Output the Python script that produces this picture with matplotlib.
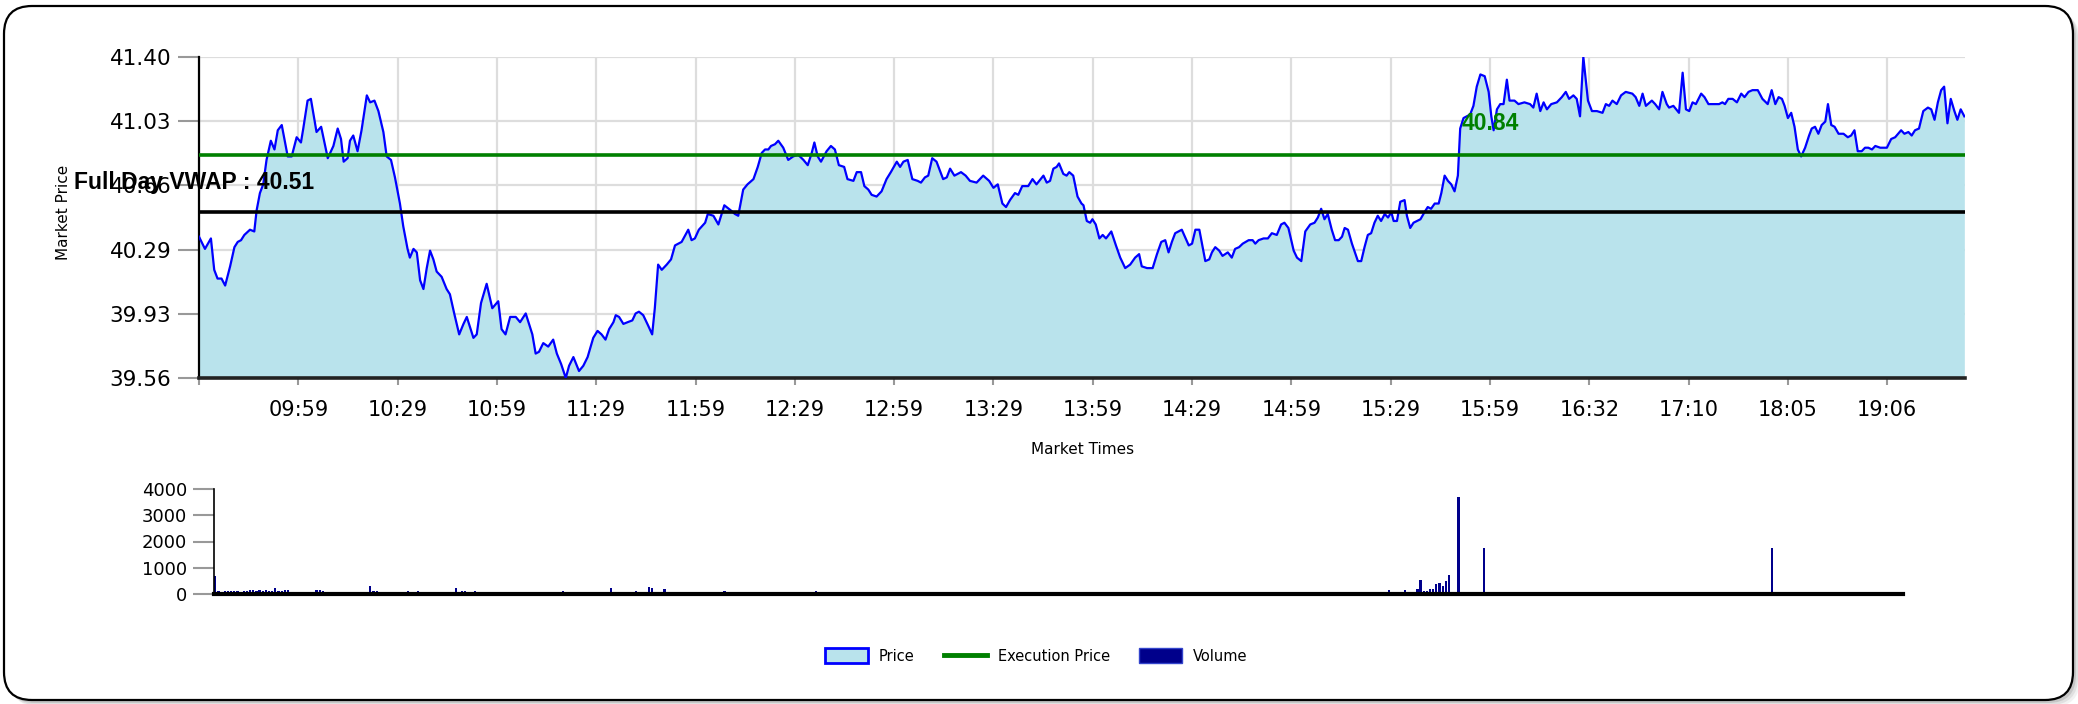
import matplotlib
matplotlib.use("Agg")
import matplotlib.pyplot as plt
import matplotlib.transforms as mtransforms
from matplotlib.patches import FancyBboxPatch, Patch
from matplotlib.lines import Line2D

# price samples: position in the session series (one step ~ one traded minute) and price
price_idx = [
    0.0, 1.8, 3.6, 4.6, 5.6, 6.8, 7.9, 9.4, 10.7, 11.7, 12.7, 13.7, 15.4, 16.7, 17.4, 18.4, 19.4, 20.4,
    21.7, 22.8, 23.8, 25.0, 26.8, 28.0, 29.5, 30.8, 31.5, 32.8, 33.8, 35.5, 36.9, 38.9, 40.6, 41.9, 42.9,
    43.7, 44.9, 45.6, 46.6, 47.9, 49.1, 50.7, 51.7, 53.0, 54.2, 55.7, 56.7, 58.0, 59.2, 60.7, 61.7, 63.0,
    63.7, 64.8, 65.8, 66.8, 67.8, 68.8, 69.8, 70.8, 71.8, 73.3, 74.8, 75.8, 77.1, 78.6, 79.9, 80.9, 81.9,
    82.9, 83.9, 85.2, 86.9, 88.6, 90.4, 91.4, 92.6, 94.0, 95.7, 97.0, 98.7, 100.7, 101.7, 102.7, 104.0,
    105.5, 107.0, 108.1, 109.4, 110.8, 111.8, 113.1, 114.8, 116.1, 117.4, 119.1, 120.4, 121.6, 122.8,
    123.9, 125.2, 125.9, 126.9, 128.2, 129.5, 130.9,
    131.9, 132.9, 134.2, 135.7, 136.9, 137.7, 138.7, 139.8, 141.3, 142.6, 143.8, 145.8, 147.8, 148.8,
    149.8, 151.0, 152.9, 153.7, 155.4, 156.9, 158.7, 160.7, 161.9, 162.9, 164.4, 165.7, 167.5, 168.8,
    170.0, 171.0, 172.0, 172.8, 174.0, 175.0, 176.5, 178.0, 179.5, 181.0, 182.6, 183.9, 185.1, 185.9,
    186.9, 187.9, 189.6, 190.9, 192.1, 193.3, 194.9, 195.9, 197.7, 198.7, 200.0, 201.0, 202.2, 203.2,
    204.7, 206.2, 207.7, 209.0, 210.8, 211.8, 212.8, 214.1, 215.5, 217.1, 218.1, 219.3, 220.3, 221.5,
    222.8, 224.8, 225.9, 226.9, 228.2, 230.2, 231.6, 232.9, 234.9, 236.9, 238.7, 240.0, 241.3, 242.7,
    243.8, 245.0, 246.5, 247.5, 248.7, 250.5, 251.8, 253.0, 255.1, 256.1, 257.1, 258.1, 259.1, 259.8,
    261.1, 262.1, 262.9, 264.1, 265.4, 266.6,
    267.2, 268.2, 269.2, 269.9, 270.9, 272.0, 273.0, 274.0, 275.6, 277.0, 278.3, 279.8, 281.3, 282.8,
    284.0, 284.8, 286.4, 288.1, 289.4, 290.7, 291.9, 292.9, 293.9, 294.9, 296.9, 299.0, 300.0, 301.0,
    302.2, 304.0, 305.2, 306.0, 307.0, 308.2, 309.2, 310.8, 312.0, 313.0, 314.2, 315.3, 317.1, 318.3,
    319.1, 320.1, 321.6, 322.9, 324.1, 325.6, 326.9, 327.9, 329.1, 330.7, 331.7, 333.0, 334.2, 335.7,
    337.0, 338.0, 339.0, 340.0, 341.0, 342.2, 343.2, 344.3, 345.3, 346.1, 347.1, 348.3, 350.1, 351.1,
    352.1, 353.1, 354.1, 355.1, 356.1, 357.1, 358.2, 359.2, 360.2, 360.9, 361.9, 362.9, 364.2, 364.9,
    365.9, 366.9, 369.0, 370.2, 371.2, 372.2, 373.3, 374.5, 375.3, 376.3, 377.3, 378.3, 379.3, 380.3,
    381.0, 382.0, 383.0, 384.0, 385.0, 386.0, 387.1, 388.4, 389.6, 390.4, 391.1, 392.1, 393.1, 394.1,
    395.1, 395.9, 397.4,
    398.6, 400.4, 402.1, 403.1, 404.1, 405.2, 406.2, 407.2, 408.5, 410.2, 411.7, 412.9, 413.9, 415.2,
    416.2, 417.2, 418.2, 419.6, 420.8, 422.3, 424.0, 425.0, 426.0, 427.0, 428.3, 429.6, 431.0, 433.0,
    434.0, 435.1, 436.1, 437.1, 438.9, 439.9, 441.1, 442.1, 443.4, 444.1, 445.4, 447.1, 448.2, 449.2,
    450.2, 451.2, 452.2, 453.8, 454.8, 456.0, 458.0, 459.2, 460.2, 461.0, 462.0, 463.3, 464.6, 465.9,
    466.9, 468.1, 469.3, 470.9, 472.3, 473.9, 475.1, 476.2, 477.2, 478.2, 479.0, 480.0, 481.0, 482.0,
    483.0, 484.0, 485.2, 486.4, 487.2, 488.2, 489.2, 490.2, 491.3, 492.1, 493.1, 494.1, 495.3, 496.8,
    498.1, 499.1, 500.1, 501.1, 502.3, 503.3, 504.3, 505.4, 506.4, 507.9, 509.9, 511.2, 512.4, 514.2,
    515.2, 516.4, 517.4, 518.4, 519.6, 520.9, 522.3, 523.3, 524.3, 525.3, 526.3, 527.2, 528.2, 529.2,
    530.3, 531.2, 532.2, 533.3,
]
price = [
    40.37, 40.30, 40.36, 40.18, 40.13, 40.13, 40.09, 40.20, 40.31, 40.34, 40.35, 40.38, 40.41, 40.40, 40.52, 40.62, 40.67, 40.81,
    40.92, 40.87, 40.98, 41.01, 40.83, 40.83, 40.94, 40.91, 40.99, 41.15, 41.16, 40.97, 41.00, 40.82, 40.89, 40.99, 40.93,
    40.80, 40.82, 40.92, 40.95, 40.86, 40.98, 41.18, 41.14, 41.15, 41.09, 40.97, 40.83, 40.81, 40.71, 40.56, 40.43, 40.30,
    40.25, 40.30, 40.28, 40.12, 40.07, 40.19, 40.29, 40.24, 40.17, 40.14, 40.07, 40.04, 39.93, 39.81, 39.87, 39.91, 39.85,
    39.79, 39.81, 39.99, 40.10, 39.96, 40.00, 39.84, 39.81, 39.91, 39.91, 39.88, 39.93, 39.81, 39.70, 39.71, 39.76,
    39.74, 39.78, 39.70, 39.64, 39.56, 39.63, 39.68, 39.60, 39.63, 39.68, 39.79, 39.83, 39.81, 39.78,
    39.84, 39.88, 39.92, 39.91, 39.87, 39.88, 39.89,
    39.93, 39.94, 39.92, 39.86, 39.81, 39.96, 40.21, 40.18, 40.21, 40.24, 40.32, 40.34, 40.41, 40.35,
    40.36, 40.41, 40.45, 40.50, 40.49, 40.44, 40.55, 40.52, 40.50, 40.49, 40.64, 40.67, 40.70, 40.77,
    40.85, 40.87, 40.87, 40.89, 40.90, 40.92, 40.88, 40.81, 40.83, 40.84, 40.81, 40.78, 40.85, 40.91,
    40.83, 40.80, 40.86, 40.89, 40.87, 40.78, 40.77, 40.70, 40.69, 40.74, 40.74, 40.66, 40.64, 40.61,
    40.60, 40.63, 40.70, 40.74, 40.80, 40.77, 40.80, 40.81, 40.70, 40.69, 40.68, 40.71, 40.72, 40.82,
    40.80, 40.70, 40.71, 40.76, 40.72, 40.74, 40.72, 40.69, 40.68, 40.72, 40.69, 40.65, 40.67, 40.56,
    40.54, 40.58, 40.62, 40.61, 40.66, 40.66, 40.70, 40.67, 40.72, 40.68, 40.69, 40.76, 40.77, 40.79,
    40.73, 40.72, 40.74, 40.72, 40.60, 40.56,
    40.55, 40.46, 40.45, 40.47, 40.44, 40.36, 40.38, 40.36, 40.40, 40.32, 40.25, 40.19, 40.21, 40.25,
    40.27, 40.20, 40.19, 40.19, 40.27, 40.34, 40.35, 40.28, 40.34, 40.39, 40.41, 40.32, 40.33, 40.41,
    40.41, 40.23, 40.24, 40.28, 40.31, 40.29, 40.26, 40.28, 40.25, 40.30, 40.31, 40.33, 40.35, 40.35,
    40.33, 40.35, 40.36, 40.36, 40.39, 40.38, 40.44, 40.45, 40.42, 40.29, 40.25, 40.23, 40.40, 40.44,
    40.45, 40.48, 40.53, 40.47, 40.50, 40.41, 40.35, 40.35, 40.37, 40.42, 40.41, 40.33, 40.23, 40.23,
    40.31, 40.38, 40.39, 40.45, 40.49, 40.46, 40.50, 40.48, 40.51, 40.46, 40.46, 40.57, 40.58, 40.49,
    40.42, 40.45, 40.47, 40.51, 40.54, 40.53, 40.56, 40.56, 40.62, 40.72, 40.69, 40.67, 40.63, 40.72,
    40.99, 41.05, 41.06, 41.07, 41.12, 41.23, 41.30, 41.29, 41.20, 41.06, 40.98, 41.10, 41.13, 41.13,
    41.27, 41.15, 41.15,
    41.13, 41.14, 41.13, 41.11, 41.19, 41.09, 41.14, 41.10, 41.13, 41.14, 41.17, 41.20, 41.16, 41.18,
    41.16, 41.06, 41.40, 41.15, 41.09, 41.09, 41.08, 41.13, 41.12, 41.15, 41.13, 41.18, 41.20, 41.19,
    41.17, 41.12, 41.19, 41.12, 41.15, 41.13, 41.10, 41.20, 41.13, 41.11, 41.12, 41.08, 41.31, 41.10,
    41.09, 41.14, 41.13, 41.19, 41.17, 41.13, 41.13, 41.13, 41.14, 41.13, 41.16, 41.16, 41.14, 41.19,
    41.17, 41.20, 41.21, 41.21, 41.16, 41.13, 41.21, 41.13, 41.17, 41.16, 41.12, 41.05, 41.08, 41.00,
    40.87, 40.83, 40.88, 40.95, 40.99, 41.00, 40.96, 41.01, 41.03, 41.13, 41.01, 41.00, 40.96, 40.96,
    40.94, 40.95, 40.98, 40.86, 40.86, 40.88, 40.88, 40.87, 40.89, 40.88, 40.88, 40.93, 40.94, 40.98,
    40.96, 40.97, 40.95, 40.98, 40.99, 41.09, 41.11, 41.10, 41.04, 41.14, 41.21, 41.23, 41.02, 41.16,
    41.09, 41.04, 41.10, 41.06,
]

exec_price = 40.84
vwap = 40.51
n_points = 534

time_labels = ['', '09:59', '10:29', '10:59', '11:29', '11:59', '12:29', '12:59', '13:29',
               '13:59', '14:29', '14:59', '15:29', '15:59', '16:32', '17:10', '18:05', '19:06']
price_ticks = [39.56, 39.928, 40.296, 40.664, 41.032, 41.40]
price_tick_labels = ['39.56', '39.93', '40.29', '40.66', '41.03', '41.40']

vol_idx = [
    0, 1, 2, 3, 4, 5, 6, 7, 8, 9, 10, 11, 12, 13, 14, 15, 16, 17, 18, 19, 20, 21, 22, 23, 24, 25,
    26, 27, 28, 29, 30, 31, 32, 33, 34, 35, 36, 37, 38, 39, 40, 41, 42, 43, 44, 45, 46, 47, 49, 50,
    51, 52, 53, 54, 55, 56, 58, 59, 61, 62, 63, 64, 65, 66, 67, 69, 71, 73, 76, 77, 78, 79, 80, 81,
    82, 83, 84, 85, 86, 87, 89, 91, 92, 93, 94, 95, 97, 99, 101, 104, 110, 113, 118, 121, 125, 132,
    133, 134, 137, 138, 139, 142, 146, 153, 159, 161, 163, 164, 167, 169, 170, 171, 178, 183, 190,
    191, 196, 200, 210, 215, 225, 240, 255, 260, 265, 271, 275, 280, 291, 300, 310, 319, 325, 330,
    339, 346, 350, 355, 358, 361, 363, 364, 365, 367, 369, 371, 372, 373, 375, 376, 377, 378, 380,
    381, 382, 383, 384, 385, 386, 387, 388, 389, 390, 393, 401, 455, 492,
]
vol = [
    700, 100, 90, 100, 100, 125, 125, 115, 75, 115, 125, 165, 140, 125, 140, 115, 165, 125, 100, 230,
    115, 100, 140, 165, 65, 75, 40, 50, 50, 65, 90, 65, 140, 165, 125, 65, 75, 65, 50, 50, 65, 50, 75,
    65, 65, 65, 40, 75, 290, 100, 125, 65, 90, 65, 75, 50, 75, 50, 125, 65, 90, 115, 65, 75, 40, 40,
    40, 50, 230, 90, 115, 100, 75, 90, 125, 75, 90, 65, 65, 65, 40, 50, 65, 75, 75, 75, 40, 40, 40,
    40, 115, 40, 40, 40, 230, 40, 125, 40, 280, 230, 40, 180, 40, 75, 65, 100, 50, 50, 50, 50, 40, 50,
    30, 30, 115, 40, 30, 25, 25, 25, 25, 25, 25, 30, 25, 40, 30, 25, 40, 25, 25, 40, 25, 30, 40, 90,
    40, 30, 40, 90, 50, 90, 90, 40, 40, 165, 40, 50, 90, 165, 50, 50, 200, 545, 125, 100, 190, 190,
    390, 420, 290, 495, 735, 3700, 1750, 25, 1750,
]
vol_ticks = [0, 1000, 2000, 3000, 4000]

W, H = 2078, 704
fig = plt.figure(figsize=(W / 100, H / 100), dpi=100)

# rounded card with a soft shadow on the right / bottom
for off, a in [(7, 0.08), (5, 0.12), (3, 0.2)]:
    sh = FancyBboxPatch((0.04 + off / 100, 0.04 - off / 100), 20.69, 6.94,
                        boxstyle="round,pad=0,rounding_size=0.28",
                        transform=fig.dpi_scale_trans, facecolor='#606060',
                        edgecolor='none', alpha=a, zorder=0)
    fig.add_artist(sh)
card = FancyBboxPatch((0.04, 0.04), 20.69, 6.94, boxstyle="round,pad=0,rounding_size=0.28",
                      transform=fig.dpi_scale_trans, facecolor='white', edgecolor='black',
                      lw=1.6, zorder=0)
fig.add_artist(card)

# price chart
ax = fig.add_axes([199 / W, 1 - 378 / H, 1766 / W, 321 / H])
ax.set_facecolor('none')
ax.fill_between(price_idx, price, price_ticks[0], color='#b9e3ec', lw=0, zorder=1)
ax.plot(price_idx, price, color='#0000ff', lw=1.6, zorder=3)
ax.axhline(exec_price, color='#008000', lw=2.6, zorder=4)
ax.axhline(vwap, color='black', lw=2.6, zorder=4)

ax.set_xlim(0, 533.5)
ax.set_ylim(price_ticks[0], price_ticks[-1])
ax.set_xticks(range(0, n_points, 30), time_labels)
ax.set_yticks(price_ticks, price_tick_labels)
ax.grid(color='#dddddd', lw=1.6)
ax.set_axisbelow(True)
ax.tick_params(axis='y', length=15, width=1.5, color='#999999', labelsize=15.5, pad=5)
ax.tick_params(axis='x', length=5, width=1.5, color='#999999', labelsize=15, pad=11)
for s in ['top', 'right']:
    ax.spines[s].set_visible(False)
ax.spines['left'].set_linewidth(1.6)
ax.spines['bottom'].set_linewidth(2.6)
ax.spines['bottom'].set_color('#222222')

blend = mtransforms.blended_transform_factory(ax.transAxes, ax.transData)
ax.text(-0.0708, vwap + 0.17, 'Full Day VWAP : %.2f' % vwap, transform=blend,
        fontsize=16.5, fontweight='bold', family='Liberation Sans', va='center', ha='left',
        clip_on=False, zorder=6)
ax.text(381.5, exec_price + 0.18, '%.2f' % exec_price, color='#008000', fontsize=16.5,
        fontweight='bold', family='Liberation Sans', va='center', ha='left', zorder=6)

fig.text(64 / W, 1 - 212 / H, 'Market Price', rotation=90, ha='center', va='center', fontsize=11)
fig.text(1083 / W, 1 - 450 / H, 'Market Times', ha='center', va='center', fontsize=11)

# volume chart
vax = fig.add_axes([213.7 / W, 1 - 594 / H, 1689.3 / W, 105 / H])
vax.set_facecolor('none')
vax.bar(vol_idx, vol, width=0.7, color='#00008b', lw=0)
vax.set_xlim(-0.5, n_points - 0.5)
vax.set_ylim(0, 4000)
vax.set_yticks(vol_ticks)
vax.set_xticks([])
vax.tick_params(axis='y', length=15, width=1.5, color='#999999', labelsize=13, pad=4)
for s in ['top', 'right']:
    vax.spines[s].set_visible(False)
vax.spines['left'].set_linewidth(1.2)
vax.spines['bottom'].set_linewidth(3)

handles = [
    Patch(facecolor='#b9e3ec', edgecolor='#0000ff', lw=2, label='Price'),
    Line2D([], [], color='#008000', lw=3.5, label='Execution Price'),
    Patch(facecolor='#00008b', edgecolor='#3344cc', lw=1, label='Volume'),
]
fig.legend(handles=handles, loc='center', bbox_to_anchor=(1036 / W, 1 - 656 / H), ncol=3,
           frameon=False, fontsize=10.5, handlelength=2.95, handleheight=1.2,
           handletextpad=0.75, columnspacing=2.0)

fig.savefig('out.png', dpi=100)
